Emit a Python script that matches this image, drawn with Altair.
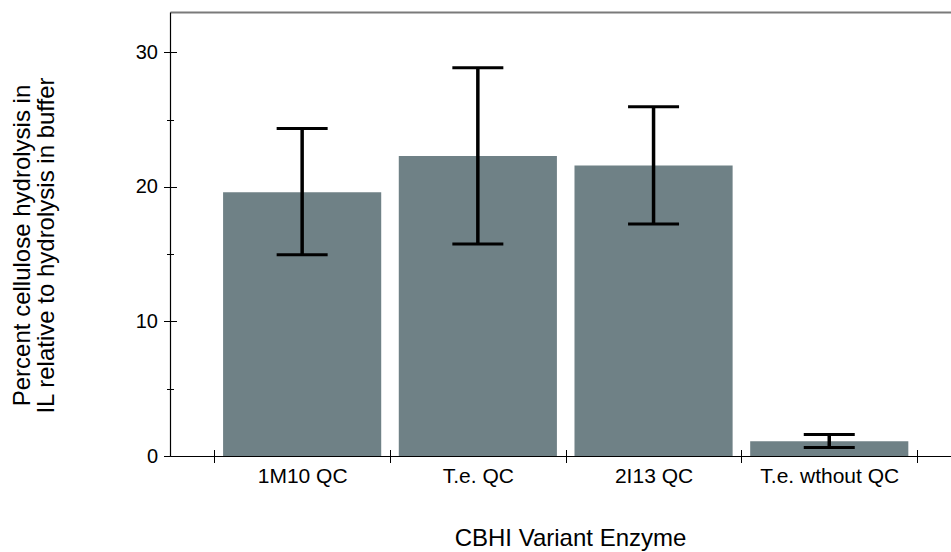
import altair as alt
import pandas as pd

# ---- data ----
categories = ["1M10 QC", "T.e. QC", "2I13 QC", "T.e. wthout QC"]
means = [19.6, 22.3, 21.6, 1.1]
err_low = [14.95, 15.75, 17.25, 0.63]
err_high = [24.35, 28.85, 25.95, 1.6]
y_major = [0, 10, 20, 30]
y_minor = [5, 15, 25]
x_title = "CBHI Variant Enzyme"
y_title = ["Percent cellulose hydrolysis in", "IL relative to hydrolysis in buffer"]

df = pd.DataFrame({"enzyme": categories, "mean": means, "low": err_low, "high": err_high})

FONT = "Liberation Sans"
BAR_COLOR = "#6f8186"

xscale = alt.Scale(domain=categories, paddingInner=0, paddingOuter=0.2225, align=0.5665)
yscale = alt.Scale(domain=[0, 33], nice=False, zero=True)

# main axes (layer 1)
x_main = alt.Axis(
    orient="bottom", tickBand="extent", tickSize=6.5, tickColor="black", tickWidth=1,
    domainColor="black", domainWidth=1.2, labelFontSize=21, labelColor="black",
    labelPadding=3, labelAngle=0, title=x_title, titleFontSize=24,
    titleFontWeight="normal", titleColor="black", titlePadding=40, titleX=400,
    grid=False, zindex=1,
)
y_main = alt.Axis(
    orient="left", values=sorted(y_major + y_minor),
    tickSize={"condition": {"test": "datum.value % 10 !== 0", "value": 3.5}, "value": 6.5},
    tickColor="black", tickWidth=1, domainColor="black", domainWidth=1.2,
    labelExpr="datum.value % 10 === 0 ? datum.label : ''",
    labelFontSize=20, labelColor="black", labelPadding=6,
    title=y_title, titleFontSize=24, titleFontWeight="normal", titleColor="black",
    titleLineHeight=24, titleX=-136, titleY=233, titleAngle=-90,
    grid=False, zindex=1,
)
# inner halves of ticks (layer 2)
x_inner = alt.Axis(
    orient="bottom", offset=-6.5, tickBand="extent", tickSize=6.5, tickColor="black",
    tickWidth=1, domain=False, labels=False, title=None, grid=False, zindex=1,
)
y_inner = alt.Axis(
    orient="left", offset=-6.5, values=y_major, tickSize=6.5, tickColor="black",
    tickWidth=1, domain=False, labels=False, title=None, grid=False, zindex=1,
)
# top frame line and inner minor ticks (layer 3)
x_top = alt.Axis(
    orient="top", domainColor="#7a7a7a", domainWidth=2, ticks=False, labels=False,
    title=None, grid=False, zindex=1,
)
y_minor_inner = alt.Axis(
    orient="left", offset=-3.5, values=y_minor, tickSize=3.5, tickColor="black",
    tickWidth=1, domain=False, labels=False, title=None, grid=False, zindex=1,
)

base = alt.Chart(df)

bars = base.mark_bar(color=BAR_COLOR, width=alt.RelativeBandSize(0.9)).encode(
    x=alt.X("enzyme:N", scale=xscale, axis=x_main),
    y=alt.Y("mean:Q", scale=yscale, axis=y_main),
)

rule = base.mark_rule(color="black", strokeWidth=3.5).encode(
    x=alt.X("enzyme:N", scale=xscale, axis=x_inner),
    y=alt.Y("low:Q", scale=yscale, axis=y_inner),
    y2="high:Q",
)

caps = base.transform_fold(["low", "high"], as_=["which", "value"]).mark_tick(
    color="black", thickness=3, size=51, opacity=1
).encode(
    x=alt.X("enzyme:N", scale=xscale, axis=x_top),
    y=alt.Y("value:Q", scale=yscale, axis=y_minor_inner),
)

chart = (
    alt.layer(bars, rule, caps)
    .resolve_scale(x="shared", y="shared")
    .resolve_axis(x="independent", y="independent")
    .properties(
        width=781, height=444,
        autosize=alt.AutoSizeParams(type="none"),
        padding={"left": 170, "top": 12, "right": 0, "bottom": 96},
    )
    .configure(font=FONT)
    .configure_view(stroke=None)
)

chart.save("out.html", embed_options={"renderer": "svg", "actions": False})
